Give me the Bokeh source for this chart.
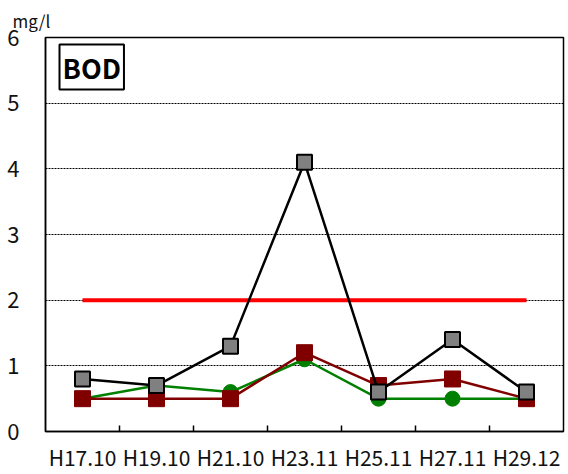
from bokeh.plotting import figure
from bokeh.models import FixedTicker, Label, ColumnDataSource, Range1d, Title
from bokeh.embed import file_html
from bokeh.resources import INLINE

categories = ["H17.10", "H19.10", "H21.10", "H23.11", "H25.11", "H27.11", "H29.12"]
gray_series = [0.8, 0.7, 1.3, 4.1, 0.6, 1.4, 0.6]
darkred_series = [0.5, 0.5, 0.5, 1.2, 0.7, 0.8, 0.5]
green_series = [0.5, 0.7, 0.6, 1.1, 0.5, 0.5, 0.5]
standard_value = [2, 2, 2, 2, 2, 2, 2]
y_ticks = [0, 1, 2, 3, 4, 5, 6]

xs = list(range(len(categories)))
src = ColumnDataSource(dict(x=xs, gray=gray_series, dred=darkred_series,
                            green=green_series, std=standard_value))

FONT = "Noto Sans CJK JP"

p = figure(width=566, height=474, output_backend="svg", toolbar_location=None,
           x_range=Range1d(-0.5, len(categories) - 0.5), y_range=Range1d(0, 6),
           min_border_left=45, min_border_top=37, min_border_bottom=42, min_border_right=3)
p.background_fill_color = "white"
p.border_fill_color = "white"
p.outline_line_color = "black"
p.outline_line_width = 1.5

# unit title
p.title = Title(text="mg/l", align="left", offset=-33, standoff=10,
                text_font=FONT, text_font_size="17px", text_font_style="normal",
                text_color="#111111")

# grids
p.xgrid.visible = False
p.ygrid.grid_line_color = "black"
p.ygrid.grid_line_dash = "2 1"
p.ygrid.grid_line_width = 1
p.ygrid.ticker = FixedTicker(ticks=[1, 2, 3, 4, 5])

# axes
p.xaxis.ticker = FixedTicker(ticks=xs, minor_ticks=[i + 0.5 for i in xs[:-1]])
p.xaxis.major_label_overrides = {i: c for i, c in enumerate(categories)}
p.xaxis.major_tick_in = 0
p.xaxis.major_tick_out = 0
p.xaxis.minor_tick_in = 6
p.xaxis.minor_tick_out = 0
p.xaxis.minor_tick_line_color = "black"
p.xaxis.minor_tick_line_width = 1.5
p.xaxis.axis_line_color = "black"
p.xaxis.axis_line_width = 1.5
p.xaxis.major_label_text_font = FONT
p.xaxis.major_label_text_font_size = "21px"
p.xaxis.major_label_text_color = "#111111"
p.xaxis.major_label_standoff = 10

p.yaxis.ticker = FixedTicker(ticks=y_ticks)
p.yaxis.major_tick_in = 0
p.yaxis.major_tick_out = 0
p.yaxis.minor_tick_line_color = None
p.yaxis.axis_line_color = "black"
p.yaxis.axis_line_width = 1.5
p.yaxis.major_label_text_font = FONT
p.yaxis.major_label_text_font_size = "22px"
p.yaxis.major_label_text_color = "#111111"
p.yaxis.major_label_standoff = 26

# standard line
p.line(x="x", y="std", source=src, line_color="#ff0000", line_width=4)

# green series
p.line(x="x", y="green", source=src, line_color="#008000", line_width=2.5)
p.scatter(x="x", y="green", source=src, marker="circle", size=15,
          fill_color="#008000", line_color="#008000")

# dark red series
p.line(x="x", y="dred", source=src, line_color="#800000", line_width=2.5)
p.scatter(x="x", y="dred", source=src, marker="square", size=16,
          fill_color="#800000", line_color="#800000")

# gray series
p.line(x="x", y="gray", source=src, line_color="black", line_width=2.5)
p.scatter(x="x", y="gray", source=src, marker="square", size=15,
          fill_color="#808080", line_color="black", line_width=2)

# BOD box
bod = Label(x=-0.5, y=6, x_offset=14, y_offset=-7, text="BOD",
            text_font=FONT, text_font_size="27px", text_font_style="bold",
            text_color="black", text_align="left", text_baseline="top",
            border_line_color="black", border_line_width=2,
            background_fill_color="white", padding=3)
p.add_layout(bod)

open("out.html", "w").write(file_html(p, INLINE))
